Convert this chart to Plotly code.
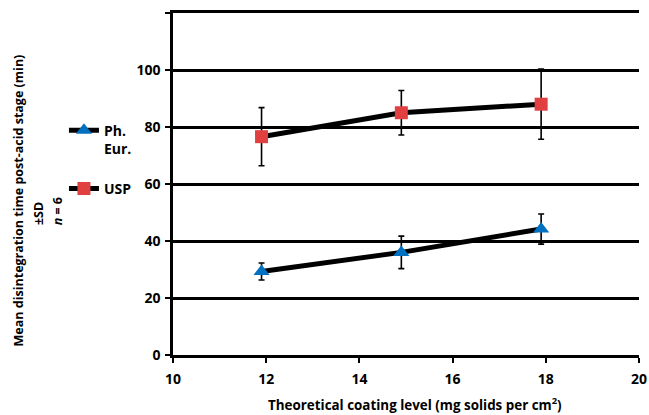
import plotly.graph_objects as go

coating = [11.9, 14.9, 17.9]
ph_eur = [29.3, 36.0, 44.2]
ph_eur_sd = [3.0, 5.7, 5.3]
usp = [76.6, 85.0, 88.0]
usp_sd = [10.2, 7.8, 12.3]
x_ticks = [10, 12, 14, 16, 18, 20]
y_ticks = [0, 20, 40, 60, 80, 100, 120]
y_labels = ["0", "20", "40", "60", "80", "100", ""]
y_title_lines = ["Mean disintegration time post-acid stage (min)", "±SD", "<i>n</i> = 6"]

FONT = "Open Sans"
fig = go.Figure()
fig.add_trace(go.Scatter(
    x=coating, y=ph_eur, name="Ph.<br>Eur.", mode="lines+markers", legendgroup="a",
    line=dict(color="black", width=5),
    marker=dict(symbol="triangle-up", size=14, color="#0070C0"),
    error_y=dict(type="data", array=ph_eur_sd, color="black", thickness=1.6, width=3),
))
fig.add_trace(go.Scatter(
    x=coating, y=usp, name="USP", mode="lines+markers", legendgroup="b",
    line=dict(color="black", width=5),
    marker=dict(symbol="square", size=13, color="#E04040"),
    error_y=dict(type="data", array=usp_sd, color="black", thickness=1.6, width=3),
))

fig.update_layout(
    width=649, height=415,
    margin=dict(l=173, r=10, t=13, b=60, autoexpand=False),
    paper_bgcolor="white", plot_bgcolor="white",
    font=dict(family=FONT, size=14, color="black", weight="bold"),
    legend=dict(x=-0.234, xanchor="left", y=0.703, yanchor="top",
                valign="top", traceorder="grouped", tracegroupgap=19,
                font=dict(family=FONT, size=14, color="black", weight="bold"),
                bgcolor="rgba(0,0,0,0)"),
    showlegend=True,
)
fig.update_xaxes(
    range=[10, 20], tickvals=x_ticks, ticks="outside", ticklen=5, tickwidth=2,
    tickcolor="black", showline=True, linecolor="black", linewidth=3, mirror=True,
    showgrid=False, zeroline=False, automargin=False, ticklabelstandoff=4,
    tickfont=dict(family=FONT, size=14, color="black", weight="bold"),
)
fig.update_yaxes(
    range=[0, 120], tickvals=y_ticks, ticktext=y_labels, ticks="outside",
    ticklen=5, tickwidth=2, tickcolor="black", showline=True, linecolor="black",
    linewidth=2.5, showgrid=True, gridcolor="black", gridwidth=3, zeroline=False,
    automargin=False, ticklabelstandoff=2,
    tickfont=dict(family=FONT, size=14, color="black", weight="bold"),
)
for txt, xp, yp in zip(y_title_lines, [-0.3326, -0.2897, -0.2489], [0.452, 0.415, 0.42]):
    fig.add_annotation(
        xref="paper", yref="paper", x=xp, y=yp, xanchor="center", yanchor="middle",
        textangle=-90, showarrow=False, align="center", text=txt,
        font=dict(family=FONT, size=12.5, color="black", weight="bold"),
    )
fig.add_annotation(
    xref="paper", yref="paper", x=0.519, y=-0.142, xanchor="center", yanchor="middle",
    showarrow=False,
    text="Theoretical coating level (mg solids per cm<sup>2</sup>)",
    font=dict(family=FONT, size=13.4, color="black", weight="bold"),
)
fig.write_html("out.html", config={"displayModeBar": False},
               post_script="document.body.style.margin='0';document.body.style.padding='0';")
